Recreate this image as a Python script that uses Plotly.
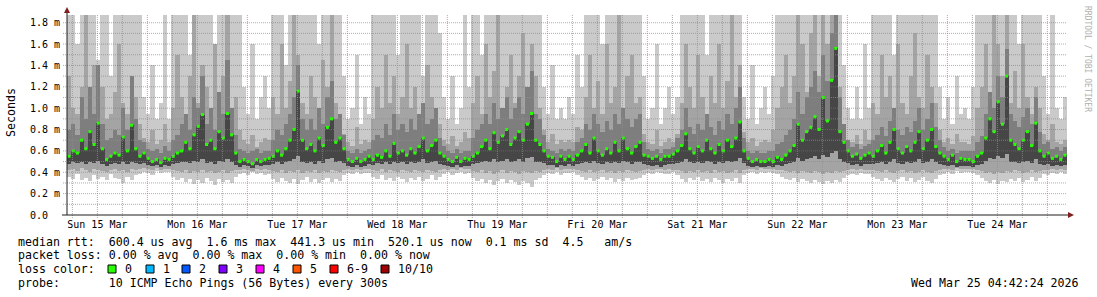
import numpy as np
import pandas as pd
import plotly.graph_objects as go

# ---------------- data (hourly, ms) ----------------
START = pd.Timestamp("2026-03-15 04:42:24")
END = pd.Timestamp("2026-03-25 04:42:24")

MEDIAN_MS = [
    0.55,0.6,0.58,0.7,0.62,0.78,0.66,0.86,0.62,0.52,0.55,0.58,0.56,0.73,0.6,0.84,0.62,0.55,0.58,0.53,0.5,0.52,0.49,0.53,
    0.52,0.55,0.58,0.6,0.68,0.62,0.75,0.83,0.94,0.66,0.7,0.62,0.78,0.72,0.95,0.75,0.58,0.5,0.52,0.5,0.48,0.52,0.5,0.52,
    0.53,0.55,0.6,0.56,0.62,0.7,0.8,1.16,0.7,0.62,0.66,0.6,0.72,0.65,0.82,0.9,0.68,0.72,0.62,0.52,0.5,0.53,0.5,0.52,
    0.55,0.52,0.56,0.54,0.6,0.55,0.67,0.58,0.6,0.56,0.62,0.58,0.64,0.72,0.6,0.65,0.7,0.58,0.55,0.52,0.5,0.54,0.5,0.53,
    0.52,0.55,0.58,0.64,0.7,0.62,0.77,0.68,0.74,0.8,0.66,0.72,0.78,0.7,0.85,0.95,0.7,0.66,0.6,0.55,0.54,0.5,0.55,0.52,
    0.55,0.52,0.56,0.6,0.66,0.58,0.72,0.6,0.56,0.62,0.58,0.68,0.6,0.72,0.62,0.58,0.64,0.68,0.56,0.55,0.53,0.55,0.52,0.55,
    0.55,0.57,0.6,0.65,0.76,0.62,0.58,0.64,0.6,0.7,0.62,0.58,0.66,0.6,0.7,0.64,0.72,0.87,0.6,0.53,0.5,0.52,0.5,0.5,
    0.52,0.5,0.54,0.52,0.56,0.6,0.65,0.85,0.7,0.78,0.82,0.92,0.8,1.1,0.88,1.26,1.56,0.78,0.68,0.6,0.55,0.57,0.53,0.56,
    0.58,0.55,0.6,0.65,0.58,0.68,0.8,0.62,0.58,0.64,0.6,0.68,0.78,0.62,0.7,0.8,0.64,0.58,0.55,0.52,0.56,0.5,0.53,0.52,
    0.52,0.5,0.55,0.58,0.72,0.9,0.78,1.06,0.85,1.3,0.7,0.66,0.62,0.7,0.78,0.65,0.86,0.6,0.55,0.58,0.53,0.55,0.52,0.56,
]

# outer smoke (ping 1 .. ping 10)
SMOKE1_TOP = [
    1.87,1.87,1.6,1.87,1.87,1.87,1.87,1.45,1.87,1.87,1.3,1.87,1.87,1.87,1.87,1.87,1.87,1.87,1.1,0.95,1.4,0.9,1.05,1.87,
    0.9,1.87,1.87,1.87,1.87,1.5,1.87,1.87,1.87,1.87,1.87,1.35,1.87,1.87,1.87,1.87,1.87,1.87,1.2,0.95,1.6,0.9,1.1,1.3,
    1.0,1.87,1.87,1.87,1.4,1.87,1.87,1.87,1.87,1.87,1.87,1.87,1.6,1.87,1.87,1.87,1.87,1.87,1.3,0.9,1.0,1.5,0.85,1.1,
    0.95,1.87,1.87,1.87,1.87,1.87,1.87,1.5,1.87,1.87,1.87,1.87,1.87,1.3,1.87,1.87,1.87,1.7,1.1,0.9,1.3,0.85,1.0,1.87,
    1.2,1.87,1.87,1.5,1.87,1.87,1.87,1.87,1.87,1.87,1.87,1.87,1.87,1.87,1.87,1.87,1.87,1.87,1.2,0.95,1.4,0.9,1.0,0.9,
    1.1,0.95,1.5,1.2,1.87,1.87,1.87,1.87,1.6,1.87,1.87,1.87,1.87,1.87,1.87,1.87,1.87,1.87,1.3,0.9,1.0,1.6,0.85,1.0,
    1.2,0.95,1.1,1.87,1.87,1.87,1.87,1.87,1.87,1.5,1.87,1.87,1.87,1.87,1.87,1.87,1.87,1.87,1.1,0.9,1.4,0.85,1.0,1.2,
    0.95,1.3,1.87,1.87,1.87,1.87,1.87,1.87,1.87,1.87,1.87,1.87,1.87,1.87,1.87,1.87,1.87,1.87,1.4,1.0,0.9,1.2,0.9,1.6,
    1.0,1.87,1.87,1.87,1.87,1.87,1.5,1.87,1.87,1.87,1.87,1.87,1.87,1.87,1.87,1.87,1.87,1.2,0.9,1.1,0.85,1.3,0.95,1.0,
    0.9,1.2,1.87,1.87,1.87,1.87,1.87,1.87,1.87,1.87,1.87,1.87,1.6,1.87,1.87,1.87,1.87,1.87,1.3,0.95,1.87,1.0,0.9,1.1,
]
SMOKE1_LOW = [
    0.36,0.34,0.38,0.33,0.35,0.32,0.37,0.34,0.36,0.33,0.38,0.35,0.34,0.3,0.36,0.33,0.37,0.38,0.4,0.39,0.37,0.41,0.39,0.4,
    0.4,0.36,0.33,0.35,0.31,0.34,0.29,0.33,0.3,0.35,0.32,0.28,0.34,0.31,0.33,0.3,0.36,0.38,0.39,0.37,0.4,0.38,0.39,0.37,
    0.38,0.34,0.31,0.35,0.32,0.3,0.34,0.29,0.33,0.36,0.31,0.34,0.3,0.33,0.35,0.31,0.34,0.32,0.37,0.39,0.38,0.4,0.38,0.39,
    0.39,0.36,0.34,0.37,0.33,0.35,0.32,0.36,0.34,0.31,0.35,0.33,0.36,0.32,0.34,0.37,0.33,0.36,0.38,0.4,0.37,0.39,0.4,0.38,
    0.39,0.35,0.32,0.34,0.3,0.33,0.28,0.32,0.34,0.3,0.33,0.31,0.28,0.32,0.3,0.26,0.33,0.35,0.37,0.39,0.38,0.4,0.37,0.39,
    0.39,0.4,0.37,0.36,0.33,0.35,0.32,0.34,0.36,0.33,0.35,0.31,0.34,0.32,0.35,0.33,0.34,0.35,0.37,0.39,0.38,0.4,0.39,0.38,
    0.38,0.4,0.37,0.34,0.31,0.35,0.33,0.36,0.32,0.34,0.31,0.35,0.33,0.3,0.34,0.32,0.35,0.3,0.37,0.39,0.4,0.38,0.4,0.39,
    0.4,0.39,0.38,0.36,0.34,0.33,0.35,0.31,0.34,0.32,0.3,0.33,0.31,0.29,0.32,0.3,0.33,0.31,0.35,0.37,0.38,0.37,0.39,0.38,
    0.38,0.36,0.34,0.32,0.35,0.33,0.31,0.34,0.36,0.32,0.35,0.31,0.33,0.36,0.32,0.3,0.34,0.37,0.38,0.4,0.38,0.41,0.39,0.4,
    0.4,0.39,0.37,0.35,0.32,0.3,0.33,0.29,0.32,0.31,0.34,0.32,0.35,0.31,0.33,0.36,0.32,0.35,0.38,0.37,0.39,0.38,0.4,0.38,
]
# second smoke band (ping 2 .. ping 9)
SMOKE2_TOP = [
    1.3,1.0,0.95,1.2,1.87,1.1,1.4,1.0,1.2,0.9,0.95,1.15,1.6,1.05,0.95,1.3,1.1,0.85,0.72,0.68,0.8,0.66,0.7,0.85,
    0.68,1.0,1.5,1.1,0.95,1.3,1.87,1.05,1.4,1.2,1.0,1.6,1.1,1.3,1.87,1.0,1.1,0.8,0.7,0.66,0.75,0.64,0.68,0.72,
    0.7,1.1,0.95,1.6,1.0,1.25,1.87,1.5,1.05,0.95,1.3,1.1,1.0,1.45,1.2,1.87,1.05,0.95,0.76,0.68,0.65,0.82,0.66,0.7,
    0.68,0.9,1.2,1.0,1.5,1.05,1.3,0.95,1.1,1.6,1.0,1.2,0.95,1.05,1.4,1.1,1.0,0.85,0.7,0.66,0.74,0.65,0.68,0.78,
    0.72,1.05,1.3,0.95,1.6,1.1,1.35,1.87,1.0,1.2,1.5,1.05,1.3,1.7,1.1,1.6,1.3,1.0,0.8,0.68,0.76,0.66,0.7,0.68,
    0.7,0.68,0.82,0.8,1.1,1.5,1.0,1.25,0.95,1.6,1.05,1.2,1.87,1.0,1.3,1.5,1.05,1.1,0.76,0.68,0.66,0.8,0.65,0.68,
    0.72,0.68,0.76,1.05,1.6,1.2,1.0,1.5,1.1,0.95,1.3,1.05,1.6,1.0,1.25,1.87,1.1,1.4,0.78,0.68,0.72,0.65,0.68,0.7,
    0.68,0.8,1.0,1.2,1.5,1.05,1.3,1.87,1.6,1.15,1.7,1.87,1.3,1.87,1.6,1.87,1.87,1.2,0.85,0.7,0.68,0.75,0.66,0.8,
    0.7,1.05,0.95,1.5,1.1,1.3,1.0,1.6,1.05,0.95,1.3,1.7,1.1,1.0,1.5,1.2,1.05,0.8,0.68,0.72,0.66,0.76,0.68,0.68,
    0.66,0.74,1.0,1.2,1.6,1.15,1.87,1.6,1.3,1.87,1.05,1.35,1.0,1.6,1.1,0.95,1.2,1.0,0.76,0.7,0.85,0.68,0.66,0.7,
]
SMOKE2_LOW = [
    0.42,0.43,0.41,0.44,0.42,0.4,0.43,0.42,0.41,0.4,0.42,0.43,0.41,0.42,0.4,0.43,0.42,0.43,0.44,0.43,0.42,0.44,0.42,0.43,
    0.43,0.42,0.41,0.4,0.42,0.39,0.41,0.4,0.42,0.4,0.41,0.39,0.4,0.42,0.39,0.41,0.42,0.42,0.43,0.42,0.41,0.43,0.42,0.43,
    0.42,0.41,0.4,0.42,0.39,0.41,0.4,0.42,0.39,0.41,0.4,0.42,0.39,0.41,0.4,0.42,0.41,0.4,0.42,0.43,0.42,0.43,0.42,0.43,
    0.43,0.42,0.41,0.43,0.4,0.42,0.41,0.4,0.42,0.41,0.4,0.42,0.41,0.4,0.42,0.41,0.4,0.42,0.43,0.42,0.43,0.42,0.44,0.43,
    0.43,0.41,0.4,0.42,0.39,0.41,0.38,0.4,0.42,0.39,0.41,0.4,0.38,0.41,0.4,0.39,0.41,0.4,0.42,0.43,0.42,0.44,0.42,0.43,
    0.43,0.43,0.42,0.41,0.4,0.42,0.4,0.41,0.42,0.4,0.41,0.39,0.41,0.4,0.42,0.41,0.4,0.41,0.42,0.43,0.42,0.43,0.43,0.42,
    0.43,0.42,0.42,0.41,0.39,0.41,0.4,0.42,0.4,0.41,0.39,0.42,0.4,0.41,0.39,0.4,0.42,0.39,0.42,0.43,0.43,0.42,0.44,0.43,
    0.43,0.43,0.42,0.42,0.41,0.4,0.41,0.39,0.41,0.4,0.39,0.41,0.4,0.38,0.4,0.39,0.41,0.4,0.41,0.42,0.43,0.42,0.43,0.42,
    0.42,0.42,0.41,0.4,0.42,0.4,0.39,0.41,0.42,0.4,0.41,0.39,0.4,0.42,0.4,0.39,0.41,0.42,0.43,0.43,0.42,0.44,0.43,0.43,
    0.43,0.43,0.42,0.41,0.39,0.4,0.38,0.4,0.39,0.41,0.4,0.42,0.41,0.39,0.4,0.42,0.4,0.41,0.42,0.42,0.43,0.42,0.43,0.42,
]
# inner smoke band (ping 3 .. ping 8)
SMOKE3_TOP = [
    0.8,0.85,0.75,1.1,0.9,1.2,0.95,1.4,0.85,0.7,0.72,0.8,0.75,1.0,0.8,1.3,0.9,0.7,0.68,0.62,0.6,0.62,0.58,0.65,
    0.6,0.7,0.75,0.85,0.95,0.8,1.1,1.0,1.3,0.85,1.0,0.8,1.15,0.95,1.45,1.0,0.75,0.62,0.6,0.58,0.6,0.62,0.58,0.6,
    0.6,0.7,0.8,0.75,0.85,0.95,1.1,1.4,0.9,0.8,0.9,0.8,1.0,0.85,1.1,1.25,0.9,0.95,0.75,0.6,0.58,0.62,0.58,0.6,
    0.62,0.7,0.75,0.72,0.85,0.75,0.95,0.8,0.85,0.78,0.9,0.8,0.95,1.05,0.85,0.9,1.0,0.72,0.65,0.6,0.58,0.62,0.58,0.6,
    0.6,0.72,0.8,0.85,0.95,0.85,1.05,0.9,1.0,1.1,0.9,1.0,1.1,0.95,1.2,1.35,0.95,0.9,0.75,0.62,0.6,0.58,0.62,0.6,
    0.62,0.6,0.68,0.72,0.85,0.8,0.95,0.85,0.78,0.88,0.8,0.95,0.85,1.0,0.9,0.82,0.9,0.95,0.68,0.62,0.6,0.62,0.58,0.62,
    0.62,0.64,0.72,0.8,1.0,0.82,0.76,0.85,0.8,0.95,0.82,0.75,0.88,0.8,0.95,0.85,1.0,1.2,0.72,0.6,0.58,0.6,0.58,0.58,
    0.6,0.6,0.66,0.68,0.75,0.8,0.9,1.15,0.95,1.1,1.2,1.35,1.15,1.5,1.25,1.7,1.87,1.1,0.85,0.7,0.64,0.66,0.62,0.65,
    0.66,0.7,0.75,0.82,0.74,0.88,1.0,0.8,0.75,0.82,0.78,0.88,1.0,0.8,0.9,1.05,0.82,0.7,0.64,0.6,0.62,0.58,0.6,0.6,
    0.6,0.6,0.68,0.74,0.95,1.15,1.0,1.3,1.1,1.55,0.95,0.88,0.82,0.92,1.0,0.85,1.1,0.78,0.66,0.68,0.62,0.64,0.6,0.64,
]
SMOKE3_LOW = [
    0.48,0.5,0.49,0.5,0.48,0.5,0.49,0.51,0.48,0.46,0.48,0.49,0.48,0.5,0.48,0.5,0.49,0.48,0.49,0.47,0.46,0.47,0.45,0.47,
    0.46,0.48,0.49,0.5,0.5,0.49,0.51,0.5,0.52,0.49,0.5,0.48,0.51,0.5,0.52,0.5,0.47,0.45,0.47,0.46,0.44,0.47,0.46,0.47,
    0.47,0.48,0.5,0.48,0.5,0.51,0.52,0.55,0.5,0.49,0.5,0.48,0.51,0.49,0.52,0.53,0.5,0.51,0.49,0.46,0.45,0.47,0.45,0.46,
    0.48,0.47,0.49,0.48,0.5,0.48,0.5,0.49,0.5,0.48,0.5,0.49,0.5,0.52,0.49,0.5,0.51,0.48,0.47,0.46,0.45,0.47,0.45,0.46,
    0.46,0.48,0.49,0.5,0.51,0.5,0.52,0.5,0.51,0.52,0.5,0.51,0.52,0.5,0.53,0.54,0.5,0.5,0.49,0.47,0.47,0.45,0.47,0.46,
    0.48,0.46,0.48,0.49,0.5,0.49,0.51,0.49,0.48,0.5,0.49,0.5,0.49,0.51,0.5,0.48,0.5,0.5,0.48,0.47,0.46,0.47,0.45,0.47,
    0.48,0.48,0.49,0.5,0.52,0.5,0.49,0.5,0.49,0.51,0.5,0.48,0.5,0.49,0.51,0.5,0.51,0.53,0.49,0.46,0.45,0.46,0.45,0.45,
    0.46,0.45,0.47,0.46,0.48,0.49,0.5,0.53,0.51,0.52,0.53,0.55,0.52,0.56,0.54,0.58,0.6,0.52,0.5,0.49,0.47,0.48,0.46,0.48,
    0.48,0.48,0.49,0.5,0.48,0.5,0.52,0.49,0.48,0.5,0.49,0.5,0.52,0.49,0.5,0.52,0.5,0.48,0.47,0.46,0.47,0.45,0.46,0.46,
    0.46,0.45,0.47,0.48,0.51,0.53,0.52,0.55,0.53,0.57,0.5,0.5,0.49,0.5,0.51,0.49,0.52,0.48,0.47,0.48,0.46,0.47,0.46,0.47,
]

DAY_LABELS = ["Sun 15 Mar", "Mon 16 Mar", "Tue 17 Mar", "Wed 18 Mar", "Thu 19 Mar",
              "Fri 20 Mar", "Sat 21 Mar", "Sun 22 Mar", "Mon 23 Mar", "Tue 24 Mar"]
Y_TICKS = [0.0, 0.2, 0.4, 0.6, 0.8, 1.0, 1.2, 1.4, 1.6, 1.8]
Y_TICK_TEXT = ["0.0  ", "0.2 m", "0.4 m", "0.6 m", "0.8 m", "1.0 m", "1.2 m", "1.4 m", "1.6 m", "1.8 m"]

LOSS_LABELS = ["0", "1", "2", "3", "4", "5", "6-9", "10/10"]
LOSS_COLORS = ["#26ff00", "#00b8ff", "#0059ff", "#7e00ff", "#ff00ff", "#ff5500", "#ff0000", "#a10000"]

LEGEND_ROWS = [
    "median rtt:  600.4 us avg  1.6 ms max  441.3 us min  520.1 us now  0.1 ms sd  4.5   am/s",
    "packet loss: 0.00 % avg  0.00 % max  0.00 % min  0.00 % now",
    "loss color:",
    "probe:       10 ICMP Echo Pings (56 Bytes) every 300s",
]
STAMP = "Wed Mar 25 04:42:24 2026"

# ---------------- figure ----------------
W, H = 1097, 297
ML, MR, MT, MB = 67, 30, 15, 82
PW, PH = W - ML - MR, H - MT - MB
YMAX = 1.872
MONO = "DejaVu Sans Mono"


def px(x):
    return (x - ML) / PW


def py(y):
    return (H - MB - y) / PH


def nb(s):
    return s.replace(" ", "\u00a0")


t = START + pd.to_timedelta(np.arange(len(MEDIAN_MS)) + 0.5, unit="h")
med = np.array(MEDIAN_MS)

fig = go.Figure()
bands = [
    (SMOKE1_LOW, SMOKE1_TOP, "#cacaca"),
    (SMOKE2_LOW, SMOKE2_TOP, "#a4a4a4"),
    (SMOKE3_LOW, SMOKE3_TOP, "#7e7e7e"),
    (SMOKE3_LOW, MEDIAN_MS, "#464646"),
]
for lo, hi, col in bands:
    lo = np.array(lo)
    hi = np.array(hi)
    fig.add_trace(go.Bar(x=t, y=hi - lo, base=lo, width=3600 * 1000,
                         marker=dict(color=col, line=dict(width=0)),
                         hoverinfo="skip", showlegend=False))

fig.add_trace(go.Scatter(x=t, y=med, mode="markers",
                         marker=dict(symbol="square", size=3, color=LOSS_COLORS[0],
                                     line=dict(width=0)),
                         hoverinfo="skip", showlegend=False))

shapes = []
GRID = "rgba(143,143,143,0.75)"
MGRID = "rgba(222,79,79,0.6)"
# horizontal grid
for i in range(1, 19):
    v = i / 10
    shapes.append(dict(type="line", xref="paper", yref="y", x0=px(63), x1=1, y0=v, y1=v,
                       line=dict(color=MGRID if i % 2 == 0 else GRID, width=1, dash="1px,1px"),
                       layer="above"))
# vertical grid every 6h
g = pd.Timestamp("2026-03-15 06:00")
while g < END:
    major = g.hour == 0
    shapes.append(dict(type="line", xref="x", yref="paper", x0=g, x1=g, y0=py(218), y1=1,
                       line=dict(color=MGRID if major else GRID, width=1, dash="1px,1px"),
                       layer="above"))
    g += pd.Timedelta(hours=6)
# axes
AX = "#1f1f1f"
ARROW = "#801f1f"
shapes.append(dict(type="line", xref="paper", yref="paper", x0=px(62), x1=px(1069),
                   y0=0, y1=0, line=dict(color=AX, width=1), layer="above"))
shapes.append(dict(type="line", xref="paper", yref="paper", x0=0, x1=0,
                   y0=0, y1=py(11), line=dict(color=AX, width=1), layer="above"))
shapes.append(dict(type="path", xref="paper", yref="paper",
                   path=f"M {px(1068)} {py(212)} L {px(1068)} {py(218)} L {px(1074)} {py(215)} Z",
                   fillcolor=ARROW, line=dict(width=0), layer="above"))
shapes.append(dict(type="path", xref="paper", yref="paper",
                   path=f"M {px(64)} {py(13)} L {px(70)} {py(13)} L {px(67)} {py(7)} Z",
                   fillcolor=ARROW, line=dict(width=0), layer="above"))

annotations = []
row_y = [241.7, 255.0, 269.3, 283.3]
for txt, yy in zip(LEGEND_ROWS, row_y):
    annotations.append(dict(xref="paper", yref="paper", x=px(16), y=py(yy), xanchor="left",
                            yanchor="middle", text=nb(txt), showarrow=False,
                            font=dict(family=MONO, size=11.6, color="#000")))
box_x = [108, 146, 182, 219, 256, 293, 330, 381]
for bx, lab, col in zip(box_x, LOSS_LABELS, LOSS_COLORS):
    shapes.append(dict(type="rect", xref="paper", yref="paper",
                       x0=px(bx), x1=px(bx + 8), y0=py(273), y1=py(265),
                       fillcolor=col, line=dict(color="#000", width=1)))
    annotations.append(dict(xref="paper", yref="paper", x=px(bx + 15), y=py(269.3),
                            xanchor="left", yanchor="middle", text=lab, showarrow=False,
                            font=dict(family=MONO, size=11.6, color="#000")))
annotations.append(dict(xref="paper", yref="paper", x=px(1081), y=py(283.3), xanchor="right",
                        yanchor="middle", text=nb(STAMP), showarrow=False,
                        font=dict(family=MONO, size=11.6, color="#000")))
annotations.append(dict(xref="paper", yref="paper", x=px(11), y=py(113), xanchor="center",
                        yanchor="middle", text="Seconds", textangle=-90, showarrow=False,
                        font=dict(family=MONO, size=11.6, color="#000")))
annotations.append(dict(xref="paper", yref="paper", x=px(1087), y=py(59), xanchor="center",
                        yanchor="middle", text=nb("RRDTOOL / TOBI OETIKER"), textangle=90,
                        showarrow=False, font=dict(family=MONO, size=8, color="#b0b0b0")))

noons = [pd.Timestamp("2026-03-15 12:00") + pd.Timedelta(days=i) for i in range(len(DAY_LABELS))]

fig.update_layout(
    width=W, height=H, autosize=False,
    margin=dict(l=ML, r=MR, t=MT, b=MB, pad=0),
    paper_bgcolor="#ffffff", plot_bgcolor="#ffffff",
    barmode="overlay", bargap=0, showlegend=False,
    shapes=shapes, annotations=annotations,
    xaxis=dict(type="date", range=[START, END], tickvals=noons, ticktext=DAY_LABELS,
               showgrid=False, zeroline=False, showline=False, ticks="",
               ticklabelstandoff=2,
               tickfont=dict(family=MONO, size=10, color="#000")),
    yaxis=dict(range=[0, YMAX], tickvals=Y_TICKS, ticktext=[nb(s) for s in Y_TICK_TEXT],
               showgrid=False, zeroline=False, showline=False, ticks="",
               ticklabelstandoff=6,
               tickfont=dict(family=MONO, size=10, color="#000")),
)

fig.write_html("out.html")
